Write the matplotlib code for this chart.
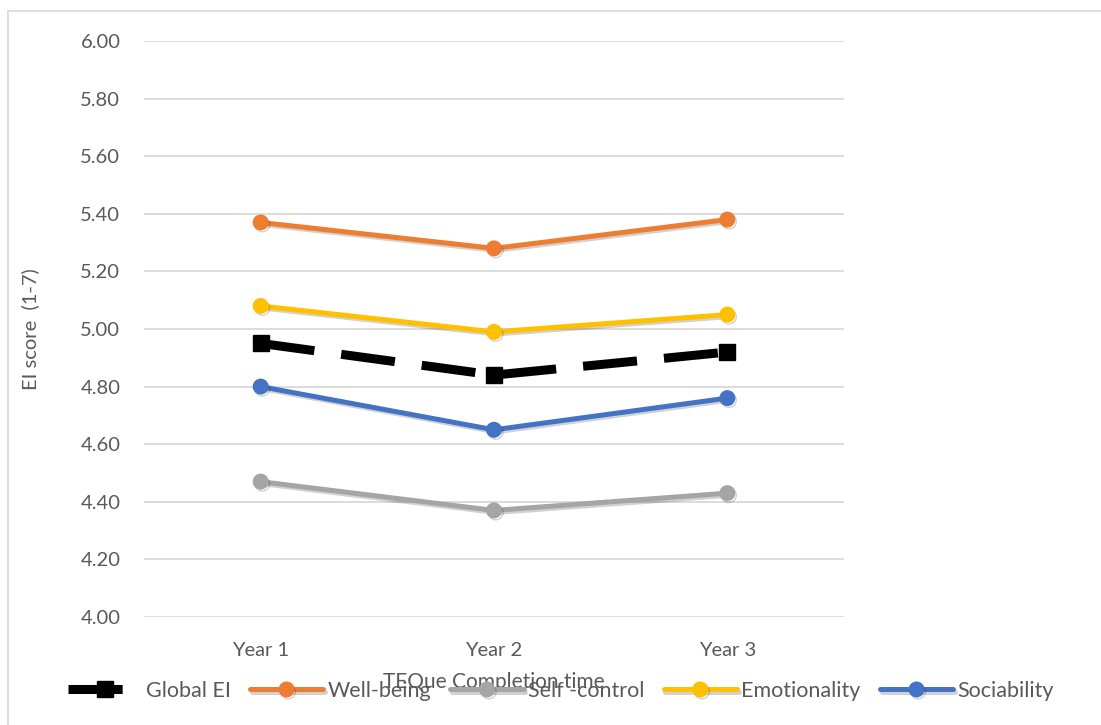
import matplotlib
matplotlib.use("Agg")
import matplotlib.pyplot as plt
import matplotlib.patheffects as pe
from matplotlib.lines import Line2D

plt.rcParams['font.family'] = ['Lato', 'DejaVu Sans']

years = ["Year 1", "Year 2", "Year 3"]
series_names = ["Global EI", "Well-being", "Self -control", "Emotionality", "Sociability"]
global_ei = [4.95, 4.84, 4.92]
well_being = [5.37, 5.28, 5.38]
self_control = [4.47, 4.37, 4.43]
emotionality = [5.08, 4.99, 5.05]
sociability = [4.80, 4.65, 4.76]
y_ticks = [4.00, 4.20, 4.40, 4.60, 4.80, 5.00, 5.20, 5.40, 5.60, 5.80, 6.00]

W, H = 1101, 725
fig = plt.figure(figsize=(W / 100, H / 100), dpi=100)
ax = fig.add_axes([144 / W, 1 - 617 / H, 700 / W, 576 / H])

# outer chart-area border (top and left edges)
fig.add_artist(Line2D([8 / W, 1.0], [1 - 11 / H, 1 - 11 / H], transform=fig.transFigure,
                      color="#D9D9D9", lw=1.2))
fig.add_artist(Line2D([8 / W, 8 / W], [0, 1 - 11 / H], transform=fig.transFigure,
                      color="#D9D9D9", lw=1.2))

x = list(range(len(years)))
shadow = [pe.SimpleLineShadow(offset=(1.2, -1.5), alpha=0.18, shadow_color="black"), pe.Normal()]

ax.plot(x, global_ei, color="black", lw=6.5, linestyle=(0, (6, 3)), dash_capstyle="butt",
        marker="s", markersize=11, label=series_names[0], zorder=3)
styles = [
    (well_being, "#ED7D31", series_names[1]),
    (self_control, "#A5A5A5", series_names[2]),
    (emotionality, "#FFC000", series_names[3]),
    (sociability, "#4472C4", series_names[4]),
]
for vals, col, name in styles:
    ax.plot(x, vals, color=col, lw=3.6, marker="o", markersize=10.5, label=name,
            path_effects=shadow, zorder=3, solid_capstyle="round")

ax.set_xlim(-0.5, 2.5)
ax.set_ylim(4.0, 6.0)
ax.set_yticks(y_ticks)
ax.set_yticklabels([f"{v:.2f}" for v in y_ticks])
ax.set_xticks(x)
ax.set_xticklabels(years)
ax.grid(axis="y", color="#D9D9D9", lw=1.3)
ax.set_axisbelow(True)
for s in ax.spines.values():
    s.set_visible(False)
ax.tick_params(length=0, labelsize=14.5, colors="#595959")
ax.tick_params(axis="y", pad=17)
ax.tick_params(axis="x", pad=18)

fig.text(30 / W, 1 - 329 / H, "EI score  (1-7)", rotation=90, ha="center", va="center",
         fontsize=14.5, color="#595959")
fig.text(494 / W, 1 - 682 / H, "TEQue Completion time", ha="center", va="center",
         fontsize=15, color="#595959")

fig.legend(loc="center", bbox_to_anchor=(561 / W, 1 - 691 / H), ncol=5, frameon=False,
           fontsize=15.5, handlelength=3.4, handletextpad=0.2, columnspacing=0.9,
           labelcolor="#595959")

fig.savefig("out.png", dpi=100)
